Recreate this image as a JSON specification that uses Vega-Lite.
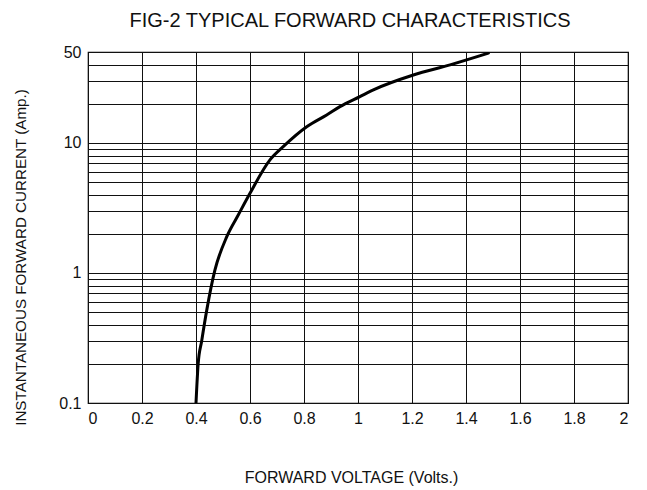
{
  "$schema": "https://vega.github.io/schema/vega-lite/v6.json",
  "autosize": "none",
  "padding": {"left": 88, "top": 52, "right": 19, "bottom": 87},
  "width": 540,
  "height": 351,
  "background": "white",
  "title": {
    "text": "FIG-2 TYPICAL FORWARD CHARACTERISTICS",
    "font": "Liberation Sans",
    "fontSize": 20,
    "fontWeight": "normal",
    "color": "#111",
    "anchor": "middle",
    "frame": "group",
    "dx": -8,
    "offset": 13
  },
  "config": {
    "view": {"stroke": "black", "strokeWidth": 1.2},
    "axis": {
      "labelFont": "Liberation Sans",
      "titleFont": "Liberation Sans",
      "labelColor": "#111",
      "titleColor": "#111",
      "titleFontWeight": "normal",
      "gridColor": "#111",
      "gridOpacity": 1,
      "gridWidth": 1,
      "ticks": false,
      "domain": false
    }
  },
  "data": {
    "values": [
      {"v": 0.400, "i": 0.10},
      {"v": 0.408, "i": 0.20},
      {"v": 0.421, "i": 0.30},
      {"v": 0.440, "i": 0.52},
      {"v": 0.470, "i": 1.05},
      {"v": 0.514, "i": 1.9},
      {"v": 0.557, "i": 2.8},
      {"v": 0.600, "i": 4.1},
      {"v": 0.674, "i": 7.4},
      {"v": 0.723, "i": 9.35},
      {"v": 0.810, "i": 13.3},
      {"v": 0.884, "i": 16.4},
      {"v": 0.933, "i": 19.0},
      {"v": 1.007, "i": 22.7},
      {"v": 1.057, "i": 25.6},
      {"v": 1.205, "i": 33.3},
      {"v": 1.341, "i": 39.8},
      {"v": 1.483, "i": 49.0}
    ]
  },
  "mark": {"type": "line", "color": "black", "strokeWidth": 3, "interpolate": "monotone", "strokeCap": "round", "clip": true},
  "encoding": {
    "x": {
      "field": "v",
      "type": "quantitative",
      "scale": {"domain": [0, 2], "nice": false, "zero": false},
      "axis": {
        "values": [0, 0.2, 0.4, 0.6, 0.8, 1, 1.2, 1.4, 1.6, 1.8, 2],
        "format": "~g",
        "labelFontSize": 16,
        "labelPadding": 7,
        "title": "FORWARD VOLTAGE (Volts.)",
        "titleFontSize": 16,
        "titleAnchor": "start",
        "titleAlign": "center",
        "titleBaseline": "alphabetic",
        "titleX": 263,
        "titleY": 79
      }
    },
    "y": {
      "field": "i",
      "type": "quantitative",
      "scale": {"type": "log", "domain": [0.1, 50], "nice": false},
      "axis": {
        "values": [0.1, 0.2, 0.3, 0.4, 0.5, 0.6, 0.7, 0.8, 0.9, 1, 2, 3, 4, 5, 6, 7, 8, 9, 10, 20, 30, 40, 50],
        "format": "~g",
        "labelExpr": "datum.value == 0.1 || datum.value == 1 || datum.value == 10 || datum.value == 50 ? datum.label : ''",
        "labelFontSize": 16,
        "labelPadding": 7,
        "title": "INSTANTANEOUS FORWARD CURRENT (Amp.)",
        "titleFontSize": 15.2,
        "titleAngle": -90,
        "titleAlign": "center",
        "titleBaseline": "middle",
        "titleX": -68,
        "titleY": 205
      }
    }
  }
}
